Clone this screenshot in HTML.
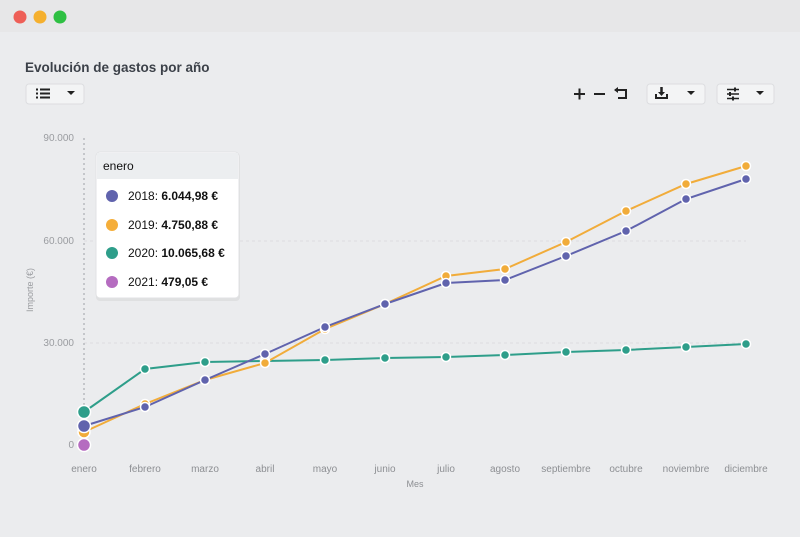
<!DOCTYPE html>
<html><head><meta charset="utf-8"><style>
body{margin:0;width:800px;height:532px;overflow:hidden;background:#ebecee;font-family:"Liberation Sans",sans-serif}
</style></head><body>
<svg width="800" height="532" viewBox="0 0 800 532" xmlns="http://www.w3.org/2000/svg" font-family="Liberation Sans, sans-serif">
<rect width="800" height="532" fill="#ebecee"/>
<rect width="800" height="32" fill="#e7e7e8"/>
<circle cx="20" cy="17" r="6.5" fill="#ee5f57"/>
<circle cx="40" cy="17" r="6.5" fill="#f5b02e"/>
<circle cx="60" cy="17" r="6.5" fill="#2fc043"/>
<text x="25" y="72" font-size="13.5" font-weight="bold" fill="#3c4149">Evolución de gastos por año</text>
<!-- buttons -->
<rect x="26" y="84" width="58" height="20" rx="3" fill="#f3f4f5" stroke="#dcdde0"/>
<g fill="#222"><rect x="36" y="88.5" width="2" height="2"/><rect x="40" y="88.5" width="10" height="2"/><rect x="36" y="92.5" width="2" height="2"/><rect x="40" y="92.5" width="10" height="2"/><rect x="36" y="96.5" width="2" height="2"/><rect x="40" y="96.5" width="10" height="2"/></g>
<path d="M67 91h8l-4 4z" fill="#222"/>
<g stroke="#222" stroke-width="2" fill="none"><path d="M574 94h11M579.5 88.5v11M594 94h11"/><path d="M615 90h11v8h-8"/></g>
<path d="M614 90l4-3v6z" fill="#222"/>
<rect x="647" y="84" width="58" height="20" rx="3" fill="#f3f4f5" stroke="#dcdde0"/>
<path d="M656 94v4h11v-4" stroke="#222" stroke-width="2" fill="none"/><path d="M661.5 87v7" stroke="#222" stroke-width="2.5"/><path d="M658 92h7l-3.5 4z" fill="#222"/>
<path d="M687 91h8l-4 4z" fill="#222"/>
<rect x="717" y="84" width="57" height="20" rx="3" fill="#f3f4f5" stroke="#dcdde0"/>
<g stroke="#222" stroke-width="1.5"><path d="M727 89.5h12M727 94h12M727 98.5h12"/></g>
<g fill="#222"><rect x="734" y="87.5" width="2" height="4"/><rect x="729" y="92" width="2" height="4"/><rect x="732" y="96.5" width="2" height="4"/></g>
<path d="M756 91h8l-4 4z" fill="#222"/>
<!-- grid -->
<g stroke="#dcdde0" stroke-dasharray="3,3" stroke-width="1"><path d="M84 241H746M84 343H746"/></g>
<path d="M84 138V445" stroke="#b8babd" stroke-dasharray="2,3" stroke-width="1.5"/>
<g font-size="10" fill="#9a9ca0" text-anchor="end"><text x="74" y="141">90.000</text><text x="74" y="244">60.000</text><text x="74" y="346">30.000</text><text x="74" y="448">0</text></g>
<text transform="translate(33 290) rotate(-90)" font-size="9" fill="#9a9ca0" text-anchor="middle">Importe (€)</text>
<g font-size="10" fill="#8d8f93" text-anchor="middle">
<text x="84" y="472">enero</text><text x="145" y="472">febrero</text><text x="205" y="472">marzo</text><text x="265" y="472">abril</text><text x="325" y="472">mayo</text><text x="385" y="472">junio</text><text x="446" y="472">julio</text><text x="505" y="472">agosto</text><text x="566" y="472">septiembre</text><text x="626" y="472">octubre</text><text x="686" y="472">noviembre</text><text x="746" y="472">diciembre</text>
<text x="415" y="487" font-size="9">Mes</text></g>
<!-- series -->
<g stroke-width="2" fill="none">
<polyline stroke="#2e9e8a" points="84,412 145,369 205,362 265,361 325,360 385,358 446,357 505,355 566,352 626,350 686,347 746,344"/>
<polyline stroke="#f1ac3a" points="84,432 145,404 205,380 265,363 325,329 385,304 446,276 505,269 566,242 626,211 686,184 746,166"/>
<polyline stroke="#6063ad" points="84,426 145,407 205,380 265,354 325,327 385,304 446,283 505,280 566,256 626,231 686,199 746,179"/>
</g>
<g stroke="#fff" stroke-width="1.5">
<g fill="#2e9e8a"><circle cx="145" cy="369" r="4.5"/><circle cx="205" cy="362" r="4.5"/><circle cx="265" cy="361" r="4.5"/><circle cx="325" cy="360" r="4.5"/><circle cx="385" cy="358" r="4.5"/><circle cx="446" cy="357" r="4.5"/><circle cx="505" cy="355" r="4.5"/><circle cx="566" cy="352" r="4.5"/><circle cx="626" cy="350" r="4.5"/><circle cx="686" cy="347" r="4.5"/><circle cx="746" cy="344" r="4.5"/></g>
<g fill="#f1ac3a"><circle cx="145" cy="404" r="4.5"/><circle cx="205" cy="380" r="4.5"/><circle cx="265" cy="363" r="4.5"/><circle cx="325" cy="329" r="4.5"/><circle cx="385" cy="304" r="4.5"/><circle cx="446" cy="276" r="4.5"/><circle cx="505" cy="269" r="4.5"/><circle cx="566" cy="242" r="4.5"/><circle cx="626" cy="211" r="4.5"/><circle cx="686" cy="184" r="4.5"/><circle cx="746" cy="166" r="4.5"/></g>
<g fill="#6063ad"><circle cx="145" cy="407" r="4.5"/><circle cx="205" cy="380" r="4.5"/><circle cx="265" cy="354" r="4.5"/><circle cx="325" cy="327" r="4.5"/><circle cx="385" cy="304" r="4.5"/><circle cx="446" cy="283" r="4.5"/><circle cx="505" cy="280" r="4.5"/><circle cx="566" cy="256" r="4.5"/><circle cx="626" cy="231" r="4.5"/><circle cx="686" cy="199" r="4.5"/><circle cx="746" cy="179" r="4.5"/></g>
<circle cx="84" cy="432" r="6" fill="#f1ac3a"/>
<circle cx="84" cy="412" r="6.5" fill="#2e9e8a"/>
<circle cx="84" cy="426" r="6.5" fill="#6063ad"/>
<circle cx="84" cy="445" r="6.5" fill="#b56cc0"/>
</g>
<!-- tooltip -->
<rect x="95" y="151" width="144" height="148" rx="4" fill="#000" opacity="0.05" transform="translate(1,2)"/>
<rect x="96" y="152" width="143" height="146" rx="4" fill="#fff" stroke="#e1e2e4"/>
<path d="M97 153h141v26H97z" fill="#eceef0"/>
<text x="103" y="170" font-size="12" fill="#111">enero</text>
<g font-size="12" fill="#111">
<circle cx="112" cy="196" r="6" fill="#6063ad"/><text x="128" y="200">2018: <tspan font-weight="bold">6.044,98 €</tspan></text>
<circle cx="112" cy="225" r="6" fill="#f5ae3a"/><text x="128" y="229">2019: <tspan font-weight="bold">4.750,88 €</tspan></text>
<circle cx="112" cy="253" r="6" fill="#2e9e8a"/><text x="128" y="257">2020: <tspan font-weight="bold">10.065,68 €</tspan></text>
<circle cx="112" cy="282" r="6" fill="#b56cc0"/><text x="128" y="286">2021: <tspan font-weight="bold">479,05 €</tspan></text>
</g>
</svg>
</body></html>
